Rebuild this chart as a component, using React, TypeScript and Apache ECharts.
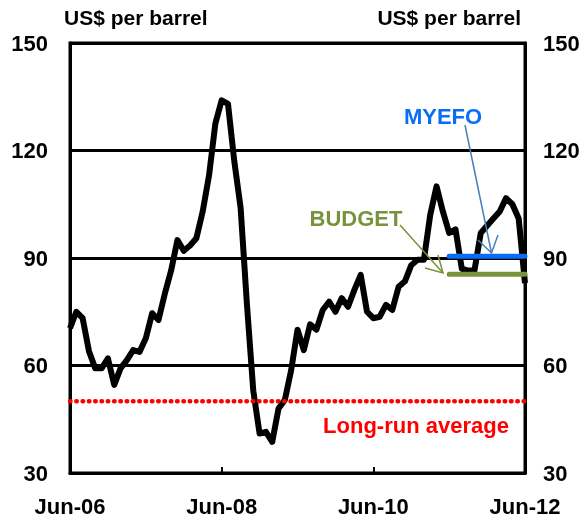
import React, { useEffect, useRef } from "react";
import * as echarts from "echarts";

const MONTH_NAMES = ["Jun", "Jul", "Aug", "Sep", "Oct", "Nov", "Dec", "Jan", "Feb", "Mar", "Apr", "May"];
const START_YEAR = 2006;
const N_MONTHS = 73;
const categories: string[] = Array.from({ length: N_MONTHS }, (_, i) => {
  const y = START_YEAR + Math.floor((i + 5) / 12);
  return `${MONTH_NAMES[i % 12]}-${String(y).slice(2)}`;
});

// Monthly oil price, US$ per barrel, Jun-06 .. Jun-12
const oilPrice: number[] = [
  70.4, 75, 73.2, 64, 59.2, 59.2, 62, 54.6, 59.2, 61.5, 64.3, 63.8,
  67.6, 74.6, 72.7, 80, 86.5, 95, 92, 93.5, 95.5, 103, 113, 127.5,
  134, 133, 117, 104, 77, 53, 41, 41.5, 38.7, 48, 50.4, 58.7,
  70, 64.3, 71.5, 70, 75.5, 77.8, 75, 78.8, 76.4, 81.1, 85.3, 75,
  73.2, 73.6, 76.9, 75.5, 82, 83.5, 88, 89.5, 89.5, 102, 110, 103,
  97, 98, 87, 86.5, 86.5, 97, 99, 101, 103, 106.7, 105, 101,
  83,
];

const FORECAST_START = "Jun-11";
const MYEFO_VALUE = 90.5;
const BUDGET_VALUE = 85.5;
const LONG_RUN_AVERAGE = 50;

const Y_MIN = 30;
const Y_MAX = 150;
const Y_INTERVAL = 30;

const FONT = "Arial, 'Liberation Sans', sans-serif";
const BLUE = "#0a6ef5";
const GREEN = "#77933c";
const ARROW_BLUE = "#4a7ebb";
const RED = "#ff0000";

export default function App() {
  const ref = useRef<HTMLDivElement>(null);

  useEffect(() => {
    if (!ref.current) return;
    const chart = echarts.init(ref.current, undefined, { renderer: "svg" });
    const startIdx = categories.indexOf(FORECAST_START);
    const myefo = categories.map((_, i) => (i >= startIdx ? MYEFO_VALUE : null));
    const budget = categories.map((_, i) => (i >= startIdx ? BUDGET_VALUE : null));
    const longRun = categories.map(() => LONG_RUN_AVERAGE);

    const labelStyle = { fontFamily: FONT, fontWeight: "bold" as const, fontSize: 22, color: "#000" };

    chart.setOption({
      animation: false,
      grid: { left: 70, right: 62, top: 43, bottom: 48, show: true, borderColor: "#000", borderWidth: 3 },
      xAxis: {
        type: "category",
        data: categories,
        boundaryGap: false,
        axisLine: { show: true, lineStyle: { color: "#000", width: 3 } },
        axisTick: {
          show: true,
          inside: true,
          length: 6,
          interval: (i: number) => i % 24 === 0,
          lineStyle: { color: "#000", width: 2 },
        },
        axisLabel: {
          ...labelStyle,
          margin: 22,
          interval: (i: number) => i % 24 === 0,
          showMinLabel: true,
          showMaxLabel: true,
        },
        splitLine: { show: false },
      },
      yAxis: [
        {
          type: "value",
          min: Y_MIN,
          max: Y_MAX,
          interval: Y_INTERVAL,
          position: "left",
          axisLine: { show: true, lineStyle: { color: "#000", width: 3 } },
          axisTick: { show: false },
          axisLabel: { ...labelStyle, margin: 22 },
          splitLine: { show: true, lineStyle: { color: "#000", width: 3 } },
        },
        {
          type: "value",
          min: Y_MIN,
          max: Y_MAX,
          interval: Y_INTERVAL,
          position: "right",
          axisLine: { show: true, lineStyle: { color: "#000", width: 3 } },
          axisTick: { show: false },
          axisLabel: { ...labelStyle, margin: 18 },
          splitLine: { show: false },
        },
      ],
      series: [
        {
          name: "Oil price",
          type: "line",
          data: oilPrice,
          symbol: "none",
          lineStyle: { color: "#000", width: 6, join: "round" },
          z: 3,
        },
        {
          name: "Long-run average",
          type: "line",
          data: longRun,
          symbol: "none",
          lineStyle: { color: RED, width: 4.5, type: [0.5, 5.8], cap: "round" },
          z: 4,
        },
        {
          name: "MYEFO",
          type: "line",
          data: myefo,
          symbol: "none",
          lineStyle: { color: BLUE, width: 5, cap: "round" },
          z: 5,
        },
        {
          name: "BUDGET",
          type: "line",
          data: budget,
          symbol: "none",
          lineStyle: { color: GREEN, width: 5, cap: "round" },
          z: 5,
        },
      ],
      graphic: [
        { type: "text", left: 64, top: 7, style: { text: "US$ per barrel", fill: "#000", font: `bold 21px ${FONT}` } },
        { type: "text", right: 66, top: 7, style: { text: "US$ per barrel", fill: "#000", font: `bold 21px ${FONT}` } },
        { type: "text", x: 443, y: 116, style: { text: "MYEFO", fill: BLUE, font: `bold 22px ${FONT}`, textAlign: "center", textVerticalAlign: "middle" } },
        { type: "text", x: 356, y: 218, style: { text: "BUDGET", fill: GREEN, font: `bold 22px ${FONT}`, textAlign: "center", textVerticalAlign: "middle" } },
        { type: "text", x: 416, y: 425, style: { text: "Long-run average", fill: RED, font: `bold 22px ${FONT}`, textAlign: "center", textVerticalAlign: "middle" } },
        // MYEFO arrow
        { type: "line", shape: { x1: 465, y1: 125, x2: 491.5, y2: 253 }, style: { stroke: ARROW_BLUE, lineWidth: 1.5 }, z: 10 },
        { type: "polyline", shape: { points: [[478, 240], [491.5, 253], [498, 235]] }, style: { stroke: ARROW_BLUE, lineWidth: 1.5, fill: null }, z: 10 },
        // BUDGET arrow
        { type: "line", shape: { x1: 400, y1: 225, x2: 443, y2: 273 }, style: { stroke: GREEN, lineWidth: 1.5 }, z: 10 },
        { type: "polyline", shape: { points: [[425, 268], [443, 273], [438, 255]] }, style: { stroke: GREEN, lineWidth: 1.5, fill: null }, z: 10 },
      ],
    });
    return () => chart.dispose();
  }, []);

  return <div ref={ref} style={{ position: "fixed", left: 0, top: 0, width: 587, height: 521 }} />;
}
